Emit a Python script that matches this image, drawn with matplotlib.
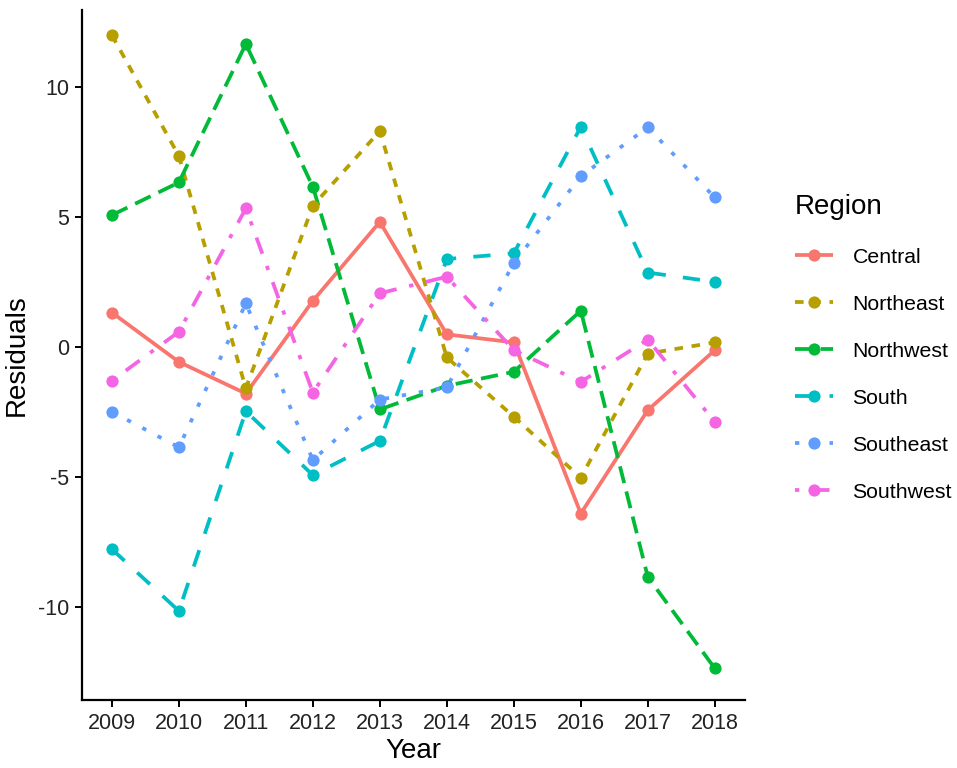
import matplotlib.pyplot as plt
from matplotlib.lines import Line2D

plt.rcParams['font.family'] = ['Liberation Sans', 'DejaVu Sans']
plt.rcParams['axes.unicode_minus'] = False

# --- data ---
years = [2009, 2010, 2011, 2012, 2013, 2014, 2015, 2016, 2017, 2018]
regions = ["Central", "Northeast", "Northwest", "South", "Southeast", "Southwest"]

central = [1.32, -0.58, -1.80, 1.77, 4.81, 0.48, 0.17, -6.42, -2.44, -0.13]
northeast = [12.0, 7.35, -1.60, 5.43, 8.31, -0.41, -2.69, -5.04, -0.26, 0.17]
northwest = [5.07, 6.33, 11.66, 6.16, -2.41, -1.50, -0.96, 1.39, -8.86, -12.38]
south = [-7.79, -10.17, -2.48, -4.94, -3.62, 3.38, 3.60, 8.47, 2.86, 2.50]
southeast = [-2.50, -3.87, 1.67, -4.36, -2.03, -1.56, 3.23, 6.57, 8.45, 5.75]
southwest = [-1.31, 0.58, 5.33, -1.76, 2.06, 2.70, -0.13, -1.35, 0.28, -2.89]

series = [central, northeast, northwest, south, southeast, southwest]

# ggplot2 default hue palette and linetypes (solid, 22, 42, 44, 13, 1343)
colors = ["#F8766D", "#B79F00", "#00BA38", "#00BFC4", "#619CFF", "#F564E3"]
k = 1.15
dash_styles = [None, (2 * k, 2 * k), (4 * k, 2 * k), (4 * k, 4 * k),
               (1 * k, 3 * k), (1 * k, 3 * k, 4 * k, 3 * k)]

LW = 2.7
MS = 8.8

fig = plt.figure(figsize=(9.57, 7.68), dpi=100)
ax = fig.add_axes([0.0854, 0.0885, 0.693, 0.8985])

for vals, col, dash in zip(series, colors, dash_styles):
    line, = ax.plot(years, vals, color=col, lw=LW, solid_capstyle='butt', zorder=2)
    if dash is not None:
        line.set_dashes(dash)
for vals, col in zip(series, colors):
    ax.plot(years, vals, 'o', color=col, ms=MS, mec='none', zorder=3)

ax.set_xlim(2008.55, 2018.45)
ax.set_ylim(-13.6, 12.97)
ax.set_xticks(years)
ax.set_yticks([-10, -5, 0, 5, 10])

for side in ['top', 'right']:
    ax.spines[side].set_visible(False)
for side in ['left', 'bottom']:
    ax.spines[side].set_linewidth(1.6)
ax.tick_params(axis='both', length=5, width=1.4, labelsize=15.5, colors='black',
               labelcolor='#222222', pad=4)
ax.set_xlabel("Year", fontsize=20, labelpad=3)
ax.set_ylabel("Residuals", fontsize=20, labelpad=6)

# legend
handles = []
for reg, col, dash in zip(regions, colors, dash_styles):
    h = Line2D([], [], color=col, lw=LW, marker='o', ms=MS, mec='none', solid_capstyle='butt')
    if dash is not None:
        h.set_dashes(dash)
    handles.append(h)
leg = fig.legend(handles, regions, loc='upper left', bbox_to_anchor=(0.822, 0.759),
                 frameon=False, fontsize=15.3, title="Region", title_fontsize=20,
                 handlelength=1.8, handletextpad=0.9, labelspacing=1.32,
                 borderaxespad=0)
leg._legend_box.align = 'left'

fig.savefig("out.png", dpi=100)
